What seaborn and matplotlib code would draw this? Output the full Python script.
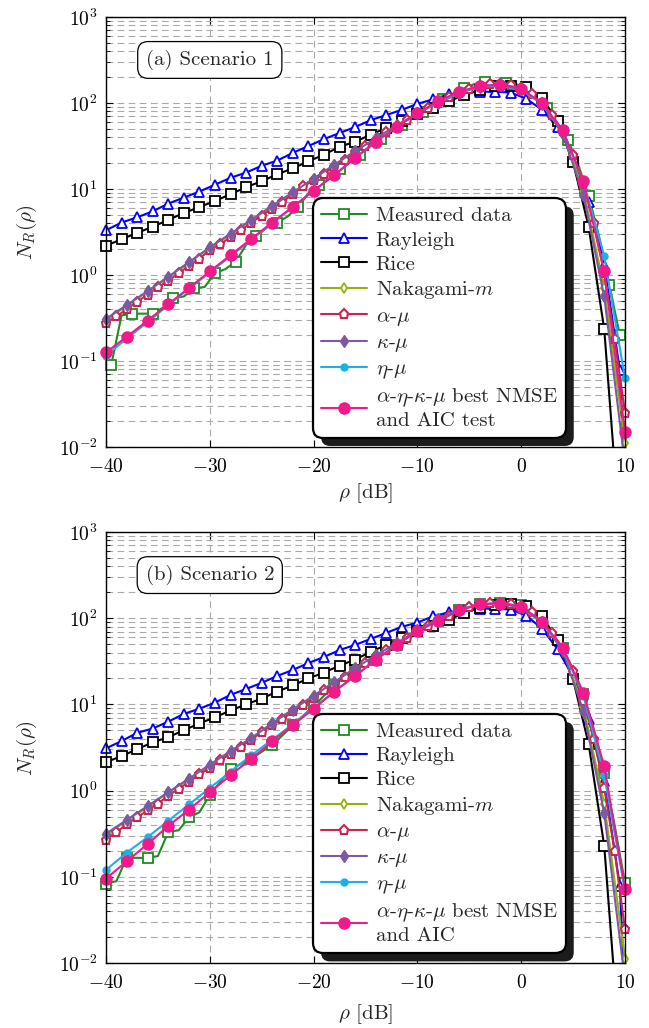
import numpy as np
import matplotlib
matplotlib.use("Agg")
import matplotlib.pyplot as plt
import seaborn as sns
from matplotlib.patches import FancyBboxPatch, Rectangle
from matplotlib.ticker import LogLocator, NullFormatter, NullLocator

# ---------------- data ----------------
# x grids (dB)
x_1p5 = np.arange(-40, 10, 1.5)              # Rayleigh / Rice markers
x_ray = np.append(x_1p5, 10)
x_1 = np.arange(-40, 11, 1.0)                # alpha-mu
x_2 = np.arange(-40, 11, 2.0)                # Nakagami, kappa-mu, eta-mu, a-e-k-mu
x_meas_1 = np.arange(-39.5, 10, 1.0)         # measured, scenario 1
x_meas_2 = np.arange(-40, 11, 1.0)           # measured, scenario 2

# Scenario 1
s1_measured = [0.089, 0.339, 0.355, 0.355, 0.355, 0.417, 0.537, 0.562, 0.700, 0.724,
               1.05, 1.17, 1.43, 2.24, 2.82, 3.55, 4.07, 4.79, 6.17, 8.91,
               11.2, 13.2, 17.0, 20.4, 25.1, 31.6, 38.0, 45.7, 55.0, 66.1,
               79.4, 93.3, 112, 129, 148, 166, 174, 174, 170, 166,
               151, 120, 87.1, 58.9, 37.2, 19.1, 8.32, 2.82, 0.759, 0.200]
s1_rayleigh = [3.31, 4.07, 4.68, 5.50, 6.76, 7.94, 9.33, 11.2, 13.5, 15.5,
               18.6, 21.4, 26.3, 31.6, 38.0, 44.7, 52.5, 63.1, 72.4, 83.2,
               97.7, 110, 126, 132, 135, 135, 132, 112, 83.2, 52.5,
               24.0, 7.08, 1.32, 0.079, 0.004]
s1_rice = [2.19, 2.60, 3.09, 3.63, 4.37, 5.25, 6.17, 7.24, 8.71, 10.5,
           12.3, 14.8, 17.4, 20.9, 25.1, 30.9, 35.5, 42.7, 51.3, 61.7,
           74.1, 87.1, 105, 123, 141, 158, 158, 155, 115, 61.7,
           20.4, 3.63, 0.234, 0.001]
s1_nakagami = [0.302, 0.437, 0.646, 0.933, 1.38, 2.09, 2.95, 4.37, 6.31, 9.12,
               13.2, 19.1, 27.5, 38.0, 55.0, 75.9, 100, 129, 155, 166,
               148, 97.7, 45.7, 9.55, 0.708, 0.0112]
s1_alpha_mu = [0.275, 0.331, 0.398, 0.490, 0.589, 0.724, 0.851, 1.05, 1.27, 1.55,
               1.95, 2.29, 2.75, 3.31, 4.07, 4.90, 5.89, 7.08, 8.71, 10.7,
               12.6, 15.1, 18.2, 21.9, 26.9, 31.6, 37.2, 45.7, 53.7, 63.1,
               75.9, 87.1, 100, 117, 132, 145, 158, 166, 166, 162,
               148, 126, 100, 72.4, 46.8, 25.1, 11.5, 3.98, 1.05, 0.178, 0.025]
s1_kappa_mu = [0.309, 0.447, 0.646, 0.955, 1.41, 2.09, 3.02, 4.37, 6.31, 9.12,
               13.2, 19.1, 27.5, 38.9, 55.0, 75.9, 100, 129, 155, 166,
               148, 97.7, 43.7, 8.51, 0.562, 0.0063]
s1_eta_mu = [0.115, 0.182, 0.282, 0.447, 0.692, 1.07, 1.66, 2.57, 3.98, 6.17,
             9.55, 14.5, 22.9, 35.5, 52.5, 75.9, 102, 132, 155, 158,
             141, 97.7, 47.9, 12.0, 1.66, 0.063]
s1_aekm = [0.126, 0.191, 0.295, 0.457, 0.708, 1.10, 1.70, 2.63, 4.07, 6.17,
           9.55, 14.5, 22.9, 35.5, 52.5, 75.9, 105, 135, 158, 162,
           145, 100, 47.9, 12.3, 1.10, 0.0151]

# Scenario 2
s2_measured = [0.0832, 0.0891, 0.166, 0.166, 0.166, 0.174, 0.331, 0.347, 0.490, 0.56,
               0.891, 1.26, 1.78, 2.04, 2.34, 2.82, 3.39, 4.37, 5.75, 7.41,
               9.55, 12.6, 16.6, 20.9, 25.1, 28.8, 33.1, 40.7, 49.0, 58.9,
               70.8, 81.3, 93.3, 107, 123, 135, 145, 151, 151, 148,
               141, 120, 91.2, 66.1, 44.7, 25.7, 13.2, 5.01, 1.58, 0.398, 0.0851]
s2_rayleigh = [3.09, 3.76, 4.68, 5.25, 6.31, 7.76, 8.91, 10.5, 12.9, 15.1,
               17.8, 21.4, 25.1, 30.2, 35.5, 42.7, 49.0, 57.5, 67.6, 79.4,
               89.1, 105, 117, 126, 129, 129, 126, 107, 75.9, 43.7,
               20.9, 6.76, 1.29, 0.079, 0.004]
s2_rice = [2.14, 2.51, 3.02, 3.63, 4.17, 5.01, 6.03, 7.08, 8.51, 10.0,
           11.7, 14.1, 16.6, 20.0, 23.4, 28.2, 33.1, 40.7, 49.0, 58.9,
           70.8, 81.3, 95.5, 115, 132, 141, 145, 138, 105, 56.2,
           19.5, 3.47, 0.229, 0.001]
s2_nakagami = [0.309, 0.447, 0.646, 0.955, 1.35, 1.95, 2.82, 4.07, 6.03, 8.71,
               12.6, 17.8, 26.3, 37.2, 51.3, 72.4, 97.7, 126, 145, 151,
               138, 91.2, 43.7, 9.33, 0.708, 0.0112]
s2_alpha_mu = [0.269, 0.331, 0.407, 0.490, 0.589, 0.708, 0.871, 1.05, 1.26, 1.55,
               1.82, 2.24, 2.69, 3.24, 3.89, 4.79, 5.75, 6.76, 8.32, 9.77,
               12.0, 14.5, 17.0, 20.9, 25.7, 30.2, 36.3, 42.7, 50.1, 58.9,
               70.8, 81.3, 95.5, 107, 123, 135, 145, 151, 151, 148,
               135, 117, 89.1, 67.6, 44.7, 24.5, 11.0, 3.98, 1.07, 0.200, 0.0245]
s2_kappa_mu = [0.316, 0.457, 0.661, 0.955, 1.38, 2.00, 2.88, 4.07, 6.03, 8.71,
               12.6, 18.2, 26.3, 37.2, 51.3, 72.4, 97.7, 126, 145, 151,
               138, 91.2, 41.7, 8.32, 0.550, 0.0063]
s2_eta_mu = [0.120, 0.191, 0.288, 0.447, 0.692, 1.07, 1.66, 2.57, 3.89, 5.89,
             9.12, 14.1, 21.4, 33.1, 49.0, 70.8, 93.3, 123, 145, 148,
             132, 89.1, 44.7, 12.6, 1.51, 0.0692]
s2_aekm = [0.0955, 0.151, 0.240, 0.389, 0.603, 0.955, 1.51, 2.34, 3.72, 5.75,
           8.91, 14.1, 21.4, 33.1, 49.0, 70.8, 93.3, 123, 145, 148,
           135, 91.2, 45.7, 13.5, 1.91, 0.0724]

series_labels = ["Measured data", "Rayleigh", "Rice", r"Nakagami-$m$",
                 r"$\alpha$-$\mu$", r"$\kappa$-$\mu$", r"$\eta$-$\mu$"]
best_label_1 = "$\\alpha$-$\\eta$-$\\kappa$-$\\mu$ best NMSE\nand AIC test"
best_label_2 = "$\\alpha$-$\\eta$-$\\kappa$-$\\mu$ best NMSE\nand AIC"
panel_titles = ["(a) Scenario 1", "(b) Scenario 2"]
x_ticks = [-40, -30, -20, -10, 0, 10]
x_tick_labels = [r"$-40$", r"$-30$", r"$-20$", r"$-10$", r"$0$", r"$10$"]

# ---------------- style ----------------
sns.set_theme(style="ticks")
plt.rcParams.update({
    "font.family": "serif",
    "font.serif": ["cmr10"],
    "mathtext.fontset": "cm",
    "axes.formatter.use_mathtext": True,
    "axes.unicode_minus": True,
    "axes.edgecolor": "black",
    "axes.linewidth": 1.0,
})

styles = [
    dict(color="#1e8c1e", marker="s", markersize=6.5, markerfacecolor="white", markeredgewidth=1.3),
    dict(color="#0000ff", marker="^", markersize=6.5, markerfacecolor="white", markeredgewidth=1.3),
    dict(color="#000000", marker="s", markersize=6.5, markerfacecolor="white", markeredgewidth=1.3),
    dict(color="#93b20a", marker="d", markersize=5.5, markerfacecolor="white", markeredgewidth=1.3),
    dict(color="#c8264f", marker="p", markersize=6.5, markerfacecolor="white", markeredgewidth=1.5),
    dict(color="#7b5aa2", marker="d", markersize=6.5, markerfacecolor="#7b5aa2", markeredgewidth=1.0),
    dict(color="#1ab0ea", marker="o", markersize=5.0, markerfacecolor="#1ab0ea", markeredgewidth=1.0),
    dict(color="#f01a8a", marker="o", markersize=8.0, markerfacecolor="#f01a8a", markeredgewidth=1.0),
]

GRID = dict(color="#a9a9a9", linestyle=(0, (6, 4)), linewidth=0.8)


def draw_panel(ax, curves, labels, title):
    for (x, y, mk), lab, st in zip(curves, labels, styles):
        sns.lineplot(x=x, y=y, ax=ax, color=st["color"], linewidth=1.5,
                     marker=st["marker"], markersize=st["markersize"],
                     markerfacecolor=st["markerfacecolor"],
                     markeredgecolor=st["color"],
                     markeredgewidth=st["markeredgewidth"],
                     markevery=mk, label=lab, legend=False, estimator=None)
    ax.set_yscale("log")
    ax.set_xlim(-40, 10)
    ax.set_ylim(1e-2, 1e3)
    ax.set_xticks(x_ticks)
    ax.set_xticklabels(x_tick_labels)
    ax.xaxis.set_minor_locator(NullLocator())
    ax.yaxis.set_major_locator(LogLocator(base=10, numticks=10))
    ax.yaxis.set_minor_locator(LogLocator(base=10, subs=np.arange(2, 10), numticks=20))
    ax.yaxis.set_minor_formatter(NullFormatter())
    ax.tick_params(which="both", direction="in", top=True, right=True,
                   labelsize=14, colors="black")
    ax.tick_params(which="major", length=5, width=0.8)
    ax.tick_params(which="minor", length=3, width=0.6)
    ax.tick_params(axis="x", pad=8)
    ax.tick_params(axis="y", pad=6)
    ax.grid(True, which="major", axis="x", **GRID)
    ax.grid(True, which="both", axis="y", **GRID)
    ax.set_axisbelow(True)
    for sp in ax.spines.values():
        sp.set_visible(True)
        sp.set_color("black")
        sp.set_linewidth(1.0)

    clip = Rectangle((-0.03, 0.0), 1.06, 1.0, transform=ax.transAxes)
    for ln in ax.get_lines():
        ln.set_clip_path(clip)

    ax.set_ylabel(r"$N_R(\rho)$", fontsize=15)
    ax.set_xlabel(r"$\rho$ [dB]", fontsize=15)
    ax.yaxis.set_label_coords(-0.13, 0.5)

    ax.text(0.2, 0.9, title, transform=ax.transAxes, ha="center", va="center",
            fontsize=15, zorder=6,
            bbox=dict(boxstyle="round,pad=0.4,rounding_size=0.5",
                      fc="white", ec="black", lw=0.9))

    leg = ax.legend(ax.get_lines()[:8], labels, loc="upper left",
                    bbox_to_anchor=(0.399, 0.578), borderaxespad=0.0,
                    fontsize=15, frameon=True, fancybox=True, framealpha=1.0,
                    edgecolor="black", facecolor="white", handlelength=2.2,
                    handletextpad=0.4, labelspacing=0.27, borderpad=0.4,
                    numpoints=1)
    leg.get_frame().set_linewidth(1.6)
    leg.get_frame().set_boxstyle("round,pad=0,rounding_size=0.5")
    return leg


fig = plt.figure(figsize=(6.49, 10.28), dpi=100)
ax1 = fig.add_axes([0.1633, 0.5652, 0.7997, 0.4183])
ax2 = fig.add_axes([0.1633, 0.0632, 0.7997, 0.4193])

curves1 = [
    (x_meas_1, s1_measured, list(range(0, 50, 2)) + [49]),
    (x_ray, s1_rayleigh, None),
    (x_1p5, s1_rice, None),
    (x_2, s1_nakagami, None),
    (x_1, s1_alpha_mu, None),
    (x_2, s1_kappa_mu, None),
    (x_2, s1_eta_mu, None),
    (x_2, s1_aekm, None),
]
curves2 = [
    (x_meas_2, s2_measured, list(range(0, 51, 2))),
    (x_ray, s2_rayleigh, None),
    (x_1p5, s2_rice, None),
    (x_2, s2_nakagami, None),
    (x_1, s2_alpha_mu, None),
    (x_2, s2_kappa_mu, None),
    (x_2, s2_eta_mu, None),
    (x_2, s2_aekm, None),
]

leg1 = draw_panel(ax1, curves1, series_labels + [best_label_1], panel_titles[0])
leg2 = draw_panel(ax2, curves2, series_labels + [best_label_2], panel_titles[1])
ax1.xaxis.set_label_coords(0.5, -0.08)
ax2.xaxis.set_label_coords(0.5, -0.092)

# dark offset shadow behind each legend box
fig.canvas.draw()
for ax, leg in [(ax1, leg1), (ax2, leg2)]:
    bb = leg.get_frame().get_window_extent()
    sh = FancyBboxPatch((bb.x0 + 8, bb.y0 - 8), bb.width, bb.height,
                        boxstyle="round,pad=0,rounding_size=9",
                        transform=None, fc="#1c1c1c", ec="none",
                        zorder=4.8, clip_on=False)
    ax.add_patch(sh)

fig.savefig("out.png", dpi=100)
